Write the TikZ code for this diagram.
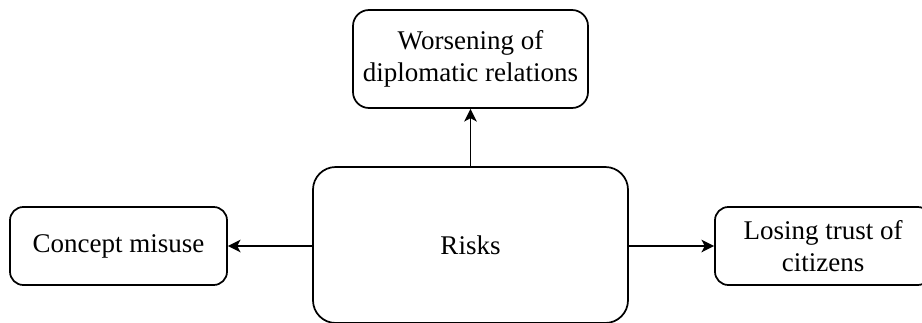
\documentclass[tikz,border=0pt]{standalone}
\usepackage{fontspec}
\setmainfont{Liberation Serif}
\usetikzlibrary{arrows.meta}
\begin{document}
\begin{tikzpicture}[x=0.75pt,y=-0.75pt,
  box/.style={draw, line width=1.3pt, inner sep=0pt, align=center,
    font=\fontsize{20.25pt}{23.8pt}\selectfont},
  link/.style={line width=1.3pt, -{Stealth[length=9.5pt,width=9.5pt,inset=2.5pt]}}]
  \useasboundingbox (0,0) rectangle (922,322);
  % central node and its three consequences
  \node[box, rounded corners=17pt, minimum width=315*0.75pt, minimum height=156*0.75pt] (risks) at (470.5,245) {Risks};
  \node[box, rounded corners=12pt, minimum width=235*0.75pt, minimum height=98*0.75pt] (dipl) at (470.5,59) {Worsening of\\diplomatic relations};
  \node[box, rounded corners=10pt, minimum width=217*0.75pt, minimum height=78*0.75pt] (misuse) at (118.5,246) {Concept misuse};
  \node[box, rounded corners=10pt, minimum width=216*0.75pt, minimum height=78*0.75pt] (trust) at (823,246) {Losing trust of\\citizens};
  % connectors
  \draw[link] (risks.north) -- (dipl.south);
  \draw[link] (risks.west |- misuse.east) -- (misuse.east);
  \draw[link] (risks.east |- trust.west) -- (trust.west);
\end{tikzpicture}
\end{document}
